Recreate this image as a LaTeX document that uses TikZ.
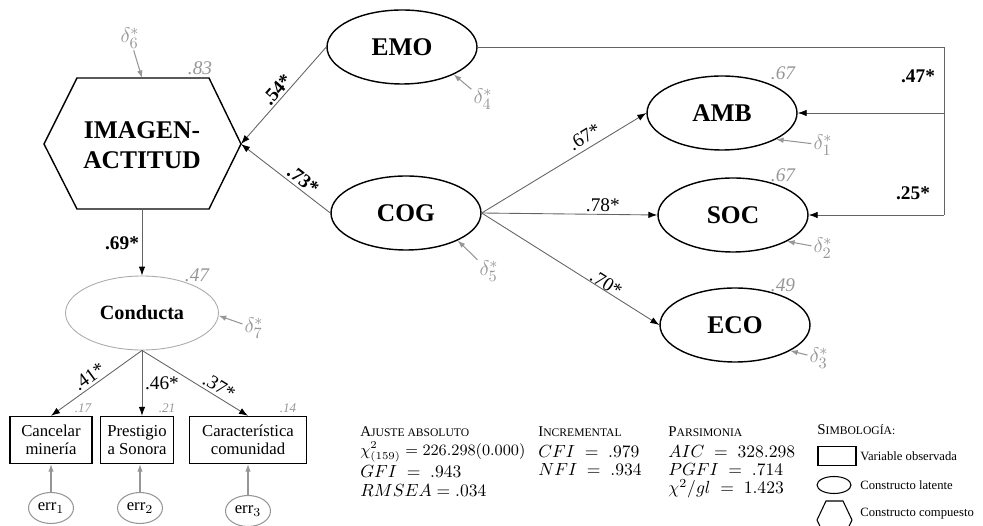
\documentclass[tikz,border=0pt]{standalone}
\usepackage{fontspec}
\setmainfont{Liberation Serif}
\usetikzlibrary{arrows.meta,positioning,shapes.geometric}
\definecolor{semGray}{RGB}{150,150,150}
\definecolor{semLine}{RGB}{100,100,100}
\newcommand{\fakesc}[2]{{\fontsize{8.5}{10}\selectfont #1}{\fontsize{6.6}{8}\selectfont #2}}

\begin{document}
\begin{tikzpicture}[x=0.02cm,y=-0.02cm,
      lat/.style={ellipse,draw,line width=0.8pt,minimum width=3cm,minimum height=1.48cm,
                  inner sep=0pt,font=\fontsize{14.5}{16}\selectfont\bfseries},
      obs/.style={rectangle,draw,line width=0.8pt,minimum height=0.94cm,inner sep=1pt,
                  align=center,font=\fontsize{9.5}{10.5}\selectfont},
      er/.style={ellipse,draw=semGray,line width=0.6pt,minimum width=0.9cm,minimum height=0.62cm,
                 inner sep=0pt,font=\fontsize{9.5}{10}\selectfont},
      r2/.style={text=semGray,inner sep=0pt,font=\fontsize{11}{12}\selectfont\itshape},
      r2s/.style={r2,font=\fontsize{7.5}{8}\selectfont\itshape},
      dl/.style={text=semGray,inner sep=1pt,font=\fontsize{12.5}{13}\selectfont},
      ar/.style={-{Latex[length=1.8mm,width=1.3mm,color=black]},semLine,line width=0.5pt},
      ga/.style={-{Latex[length=1.5mm,width=1.1mm]},semGray,line width=0.6pt},
      cf/.style={text=black,inner sep=1.5pt,font=\fontsize{11}{12}\selectfont},
      cfb/.style={text=black,inner sep=1.5pt,font=\fontsize{11}{12}\selectfont\bfseries},
      st/.style={anchor=west,inner sep=0pt,font=\fontsize{9.6}{11}\selectfont},
      lg/.style={anchor=west,inner sep=0pt,font=\fontsize{7.2}{8}\selectfont}]
    \useasboundingbox (0,0) rectangle (983,526);

    \draw[line width=0.8pt] (44,144) -- (77,78) -- (209,78) -- (241,144) -- (209,209) -- (77,209) -- cycle;
    \node[align=center,inner sep=0pt,font=\fontsize{14.5}{17}\selectfont\bfseries] (img) at (142,145) {IMAGEN-\\ACTITUD};
    \coordinate (imgE) at (241,144);
    \coordinate (imgN) at (142,78);
    \coordinate (imgS) at (142,209);
    \node[r2] (r6) at (200,68) {.83};
    \node[dl] (d6) at (130,38) {$\delta_6^*$};
    \draw[ga] (d6) -- (imgN);

    \node[lat] (emo) at (402,47) {EMO};
    \node[lat] (cog) at (406,213) {COG};
    \node[lat] (amb) at (722,113) {AMB};
    \node[lat] (soc) at (733,215) {SOC};
    \node[lat] (eco) at (735,325) {ECO};
    \node[lat,draw=semGray!80,line width=0.5pt,minimum width=3.06cm,
          font=\fontsize{11.5}{12}\selectfont\bfseries] (cond) at (142,313) {Conducta};

    \node[dl] (d4) at (483,99) {$\delta_4^*$};
    \node[dl] (d5) at (489,271) {$\delta_5^*$};
    \node[dl] (d1) at (823,145) {$\delta_1^*$};
    \node[dl] (d2) at (823,248) {$\delta_2^*$};
    \node[dl] (d3) at (819,358) {$\delta_3^*$};
    \node[dl] (d7) at (254,328) {$\delta_7^*$};
    \draw[ga] (d4) -- (emo.-28);
    \draw[ga] (d5) -- (cog.-28);
    \draw[ga] (d1) -- (amb.-26);
    \draw[ga] (d2) -- (soc.-26);
    \draw[ga] (d3) -- (eco.-25);
    \draw[ga] (d7) -- (cond.-2);
    \node[r2] (r1) at (783,73) {.67};
    \node[r2] (r2) at (783,175) {.67};
    \node[r2] (r3) at (783,285) {.49};
    \node[r2] (r7) at (197,275) {.47};

    \draw[ar] (emo.west) -- node[cfb,sloped,above,inner sep=1pt] {.54*} (imgE);
    \draw[ar] (cog.west) -- node[cfb,sloped,above,pos=0.37] {.73*} (imgE);
    \draw[ar] (cog.east) -- node[cf,sloped,above,pos=0.66,inner sep=2.5pt] {.67*} (amb.west);
    \draw[ar] (cog.east) -- node[cf,above,pos=0.69] {.78*} (soc.west);
    \draw[ar] (cog.east) -- node[cf,sloped,above,pos=0.68,inner sep=0pt] {.70*} (eco.west);

    \coordinate (bkA) at (944,47);
    \coordinate (bkB) at (bkA |- amb.east);
    \coordinate (bkC) at (bkA |- soc.east);
    \draw[semLine,line width=0.5pt] (emo.east) -- (bkA) -- (bkC);
    \draw[ar] (bkB) -- (amb.east);
    \draw[ar] (bkC) -- (soc.east);
    \node[cfb] (l47) at (918,76) {.47*};
    \node[cfb] (l25) at (913,193) {.25*};

    \draw[ar] (imgS) -- node[cfb,left,pos=0.52] {.69*} (cond.north);

    \node[obs,minimum width=1.64cm] (box1) at (51,440) {Cancelar\\minería};
    \node[obs,minimum width=1.46cm] (box2) at (137,440) {Prestigio\\a Sonora};
    \node[obs,minimum width=2.34cm] (box3) at (248,440) {Característica\\comunidad};
    \node[r2s] (q1) at (83,408) {.17};
    \node[r2s] (q2) at (167,408) {.21};
    \node[r2s] (q3) at (288,408) {.14};
    \draw[ar] (cond.south) -- node[cf,sloped,above,pos=0.52] {.41*} (box1.north);
    \draw[ar] (cond.south) -- node[cf,right,pos=0.5] {.46*} (cond.south |- box2.north);
    \draw[ar] (cond.south) -- node[cf,sloped,above,pos=0.68] {.37*} (box3.north);

    \node[er] (e1) at (51,508) {err$_1$};
    \node[er] (e2) at (140,508) {err$_2$};
    \node[er] (e3) at (248,511) {err$_3$};
    \draw[ga] (e1) -- (e1 |- box1.south);
    \draw[ga] (e2) -- (e2 |- box2.south);
    \draw[ga] (e3) -- (e3 |- box3.south);

    \node[st] (aj0) at (360,432) {\fakesc{A}{JUSTE ABSOLUTO}};
    \node[st,font=\fontsize{9}{10}\selectfont] (aj1) at (360,452) {$\chi^2_{(159)} = 226.298(0.000)$};
    \node[st] (aj2) at (360,471) {$GFI \;=\; .943$};
    \node[st] (aj3) at (360,490) {$RMSEA = .034$};
    \node[st] (in0) at (538,432) {\fakesc{I}{NCREMENTAL}};
    \node[st] (in1) at (538,451) {$CFI \;=\; .979$};
    \node[st] (in2) at (538,469) {$NFI \;=\; .934$};
    \node[st] (pa0) at (668,432) {\fakesc{P}{ARSIMONIA}};
    \node[st] (pa1) at (668,451) {$AIC \;=\; 328.298$};
    \node[st] (pa2) at (668,469) {$PGFI \;=\; .714$};
    \node[st] (pa3) at (668,489) {$\chi^2/gl \;=\; 1.423$};

    \node[st] (sy0) at (817,430) {\fakesc{S}{IMBOLOGÍA:}};
    \node[draw,line width=0.6pt,minimum width=0.76cm,minimum height=0.38cm,inner sep=0pt] (lgR) at (837,456) {};
    \node[ellipse,draw,line width=0.6pt,minimum width=0.68cm,minimum height=0.34cm,inner sep=0pt] (lgE) at (834,485) {};
    \draw[line width=0.6pt] (817,520) -- (826,501) -- (843,501) -- (852,520) -- (843,539) -- (826,539) -- cycle;
    \node[lg] (lg1) at (860,456) {Variable observada};
    \node[lg] (lg2) at (860,485) {Constructo latente};
    \node[lg] (lg3) at (860,514) {Constructo compuesto};
\end{tikzpicture}
\end{document}
